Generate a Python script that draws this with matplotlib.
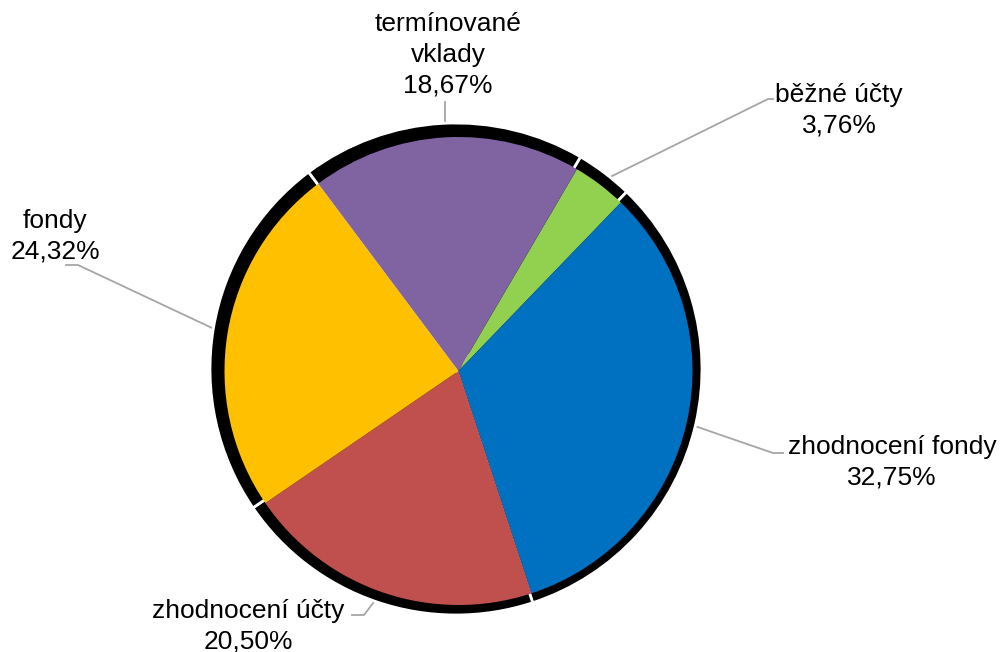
import matplotlib
matplotlib.use('Agg')
import matplotlib.pyplot as plt

# ── data ─────────────────────────────────────────────────────────────
labels = ['běžné účty', 'zhodnocení fondy', 'zhodnocení účty', 'fondy',
          'termínované vklady']
label_text = ['běžné účty', 'zhodnocení fondy', 'zhodnocení účty', 'fondy',
              'termínované\nvklady']
shares = [3.76, 32.75, 20.50, 24.32, 18.67]
colors = ['#92D050', '#0070C0', '#C0504D', '#FFC000', '#8064A2']

W, H = 1005, 652
plt.rcParams['font.family'] = ['Liberation Sans', 'DejaVu Sans']

fig = plt.figure(figsize=(W / 100, H / 100), dpi=100)
ax = fig.add_axes([0, 0, 1, 1])


def py(y):
    # pixel row (top-down) -> data y
    return H - y


start = 59.6

# black "3D" rim behind the pie
ax.pie(shares, startangle=start, counterclock=False,
       center=(456, py(369)), radius=246, colors=['black'] * len(shares),
       wedgeprops=dict(edgecolor='white', linewidth=2), frame=True)

ax.pie(shares, startangle=start, counterclock=False,
       center=(458.5, py(371)), radius=234, colors=colors,
       wedgeprops=dict(edgecolor='none'), frame=True)
ax.set_xlim(0, W)
ax.set_ylim(0, H)
ax.set_aspect('equal')
ax.axis('off')

# label block centres (x, y) and leader lines, in pixels from top-left
text_pos = [(839, 110), (892, 462), (248, 626), (55, 236), (448, 55)]
leaders = [
    [(598, 183), (768, 99), (773, 99)],
    [(686, 423), (773, 453), (783, 453)],
    [(383, 590), (364, 615), (352, 615)],
    [(227, 335), (78, 265), (66, 265)],
    [(445, 137), (445, 102)],
]

for txt, val, (tx, ty), pts in zip(label_text, shares, text_pos, leaders):
    s = f"{txt}\n{val:.2f}%".replace('.', ',')
    ax.text(tx, py(ty), s, ha='center', va='center', fontsize=19,
            linespacing=1.36, color='black')
    ax.plot([p[0] for p in pts], [py(p[1]) for p in pts],
            color='#A6A6A6', lw=1.3, zorder=0.5)

fig.savefig('out.png', dpi=100)
